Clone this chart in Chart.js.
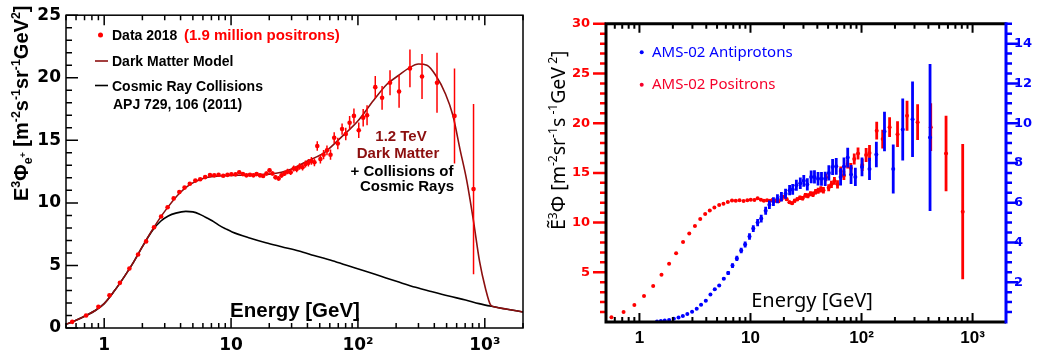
<!DOCTYPE html>
<html>
<head>
<meta charset="utf-8">
<script src="https://cdn.jsdelivr.net/npm/chart.js@4.4.1/dist/chart.umd.min.js"></script>
<style>
html, body { margin: 0; padding: 0; background: #fff; }
#wrap { position: relative; width: 1037px; height: 359px; overflow: hidden; background: #fff; }
#left { position: absolute; left: 0; top: 0; }
#right { position: absolute; left: 520px; top: 0; }
</style>
</head>
<body>
<div id="wrap">
  <canvas id="left" width="530" height="359"></canvas>
  <canvas id="right" width="517" height="359"></canvas>
</div>
<script>
// AMS-02 positrons, E^3 flux
const posE = [0.56, 0.72, 0.9, 1.1, 1.33, 1.58, 1.85, 2.14, 2.47, 2.81,
  3.16, 3.53, 3.91, 4.3, 4.73, 5.23, 5.71, 6.25, 6.82, 7.37,
  7.97, 8.67, 9.37, 10.06, 10.85,
  11.6, 12.4, 13.2, 14.1, 15.0, 15.9, 16.9, 17.9, 19.0, 20.1,
  21.2, 22.4, 23.7, 25.0, 26.4, 27.9, 29.5, 31.2,
  32.9, 34.7, 36.6, 38.6, 40.7, 43.0, 45.4,
  47.8, 50.6, 53.6, 57.0, 60.8, 65.0, 69.4, 75.0, 80.2, 86.0, 93.0,
  101.5, 110, 118,
  137, 155, 179, 211, 257, 320, 420, 577, 815];
const posV = [0.49, 1.0, 1.7, 2.62, 3.61, 4.75, 5.87, 6.92, 8.05, 8.91,
  9.65, 10.36, 10.87, 11.22, 11.53, 11.78, 11.89, 12.06, 12.22, 12.2,
  12.25, 12.17, 12.24, 12.29, 12.28,
  12.45, 12.3, 12.2, 12.25, 12.2, 12.3, 12.2, 12.15, 12.35, 12.6,
  12.35, 12.05, 11.95, 12.2, 12.35, 12.5, 12.45, 12.75,
  12.7, 12.9, 12.85, 13.1, 13.2, 13.35, 13.25,
  14.55, 13.5, 13.85, 14.2, 13.85, 15.2, 14.75, 15.9, 15.5, 16.4, 16.95,
  15.8, 16.8, 17.0,
  19.25, 18.4, 19.6, 18.9, 20.75, 20.1, 19.6, 16.95, 11.1];
const posErr = [0.03, 0.03, 0.03, 0.04, 0.04, 0.05, 0.05, 0.05, 0.06, 0.06,
  0.06, 0.07, 0.07, 0.07, 0.08, 0.08, 0.08, 0.09, 0.09, 0.09,
  0.1, 0.1, 0.1, 0.11, 0.11,
  0.12, 0.12, 0.13, 0.13, 0.14, 0.14, 0.15, 0.15, 0.16, 0.17,
  0.17, 0.18, 0.19, 0.2, 0.21, 0.22, 0.23, 0.24,
  0.25, 0.26, 0.27, 0.28, 0.3, 0.31, 0.32,
  0.38, 0.35, 0.37, 0.39, 0.41, 0.44, 0.46, 0.45, 0.5, 0.55, 0.6,
  0.62, 0.7, 0.8,
  0.9, 0.95, 1.0, 1.3, 1.5, 1.8, 2.4, 3.8, 6.8];

// AMS-02 antiprotons (right axis)
const pbarE = [1.44, 1.56, 1.69, 1.85, 2.04, 2.25, 2.46, 2.7, 2.98, 3.28, 3.59, 3.96, 4.36, 4.77, 5.23, 5.75,
  6.3, 6.89, 7.54, 8.25, 8.95, 9.8, 10.6, 11.6,
  12.5, 13.7, 14.8, 16.1, 17.5, 19.0, 20.7, 22.5, 24.0, 25.9, 28.1, 30.2,
  32.5, 35.2, 37.7, 40.6, 43.6, 47.1, 50.8, 54.9, 59.2,
  64.8, 69.5, 75.1, 80.5, 88,
  101, 118, 136, 161, 193, 235, 288, 414];
const pbarV = [0.03, 0.05, 0.08, 0.1, 0.16, 0.23, 0.3, 0.4, 0.51, 0.67, 0.87, 1.07, 1.38, 1.65, 1.83, 2.18,
  2.47, 2.84, 3.2, 3.6, 3.9, 4.3, 4.7, 5.0,
  5.2, 5.6, 5.9, 6.05, 6.2, 6.3, 6.45, 6.63, 6.67, 6.88, 6.98, 7.1,
  6.92, 7.3, 7.3, 7.2, 7.2, 7.2, 7.5, 7.8, 7.83,
  7.3, 7.82, 8.27, 7.42, 7.3,
  7.8, 7.7, 8.43, 9.58, 7.7, 9.68, 10.2, 9.28];
const pbarErr = [0.02, 0.02, 0.02, 0.02, 0.02, 0.02, 0.03, 0.03, 0.03, 0.04, 0.04, 0.05, 0.05, 0.06, 0.06, 0.07,
  0.1, 0.12, 0.13, 0.14, 0.15, 0.16, 0.17, 0.18,
  0.19, 0.2, 0.21, 0.22, 0.23, 0.24, 0.25, 0.26, 0.27, 0.28, 0.29, 0.3,
  0.31, 0.32, 0.33, 0.34, 0.35, 0.36, 0.38, 0.4, 0.42,
  0.44, 0.46, 0.5, 0.48, 0.46,
  0.47, 0.56, 0.64, 0.99, 1.23, 1.56, 1.9, 3.7];

// model curves (left panel)
const dmE = [0.5, 0.6, 0.72, 0.85, 1.0, 1.2, 1.45, 1.7, 2.0, 2.4,
  2.8, 3.2, 3.6, 4.0, 4.5, 5.0, 6.0, 7.0, 8.0, 10,
  13, 16, 20, 25, 30, 40, 54, 73, 99, 133,
  170, 210, 250, 300, 350, 410, 490, 560, 640, 720,
  810, 910, 1010, 1110, 1200, 1500, 2000];
const dmV = [0.3, 0.62, 1.0, 1.4, 1.95, 2.95, 4.15, 5.25, 6.5, 7.85,
  8.9, 9.7, 10.35, 10.85, 11.3, 11.6, 11.95, 12.1, 12.15, 12.2,
  12.22, 12.25, 12.3, 12.45, 12.7, 13.35, 14.0, 15.2, 16.5, 18.2,
  19.5, 20.2, 20.75, 21.1, 21.0, 20.2, 18.7, 17.0, 14.2, 11.8,
  8.7, 5.3, 3.2, 1.85, 1.68, 1.5, 1.28];
const crE = [0.5, 0.6, 0.72, 0.85, 1.0, 1.2, 1.45, 1.7, 2.0, 2.4,
  2.8, 3.2, 3.67, 4.4, 5.0, 5.6, 6.3, 7.1, 8.0, 9.1,
  10.2, 14, 18.8, 25, 34.3, 45, 62.9, 85, 115, 150,
  210, 285, 385, 520, 705, 900, 1150, 1500, 2000];
const crV = [0.3, 0.62, 1.0, 1.4, 1.95, 2.95, 4.15, 5.25, 6.5, 7.8,
  8.55, 8.95, 9.18, 9.32, 9.28, 9.12, 8.85, 8.57, 8.22, 7.92,
  7.68, 7.2, 6.82, 6.5, 6.15, 5.8, 5.37, 4.95, 4.53, 4.15,
  3.67, 3.25, 2.89, 2.55, 2.24, 1.95, 1.72, 1.5, 1.28];

const xTickValues = [1, 10, 100, 1000];
const xTickText = ['1', '10', '10²', '10³'];

const RED = '#ff0000';
const DARKRED = '#8c0f0f';
const BLUE = '#0000ff';

const pts = (xs, ys) => xs.map((x, i) => ({ x, y: ys[i] }));

// vertical error bars, drawn under each dataset's markers
const errorBars = {
  id: 'errorBars',
  beforeDatasetDraw(chart, args) {
    const ds = chart.data.datasets[args.index];
    if (!ds.errors) return;
    const ys = chart.scales[args.meta.yAxisID];
    const a = chart.chartArea;
    const ctx = chart.ctx;
    ctx.save();
    ctx.beginPath();
    ctx.rect(a.left, a.top, a.right - a.left, a.bottom - a.top);
    ctx.clip();
    ctx.strokeStyle = ds.errorColor;
    ctx.lineWidth = ds.errorWidth;
    ctx.beginPath();
    args.meta.data.forEach((p, i) => {
      const v = ds.data[i].y, e = ds.errors[i];
      ctx.moveTo(p.x, ys.getPixelForValue(v - e));
      ctx.lineTo(p.x, ys.getPixelForValue(v + e));
    });
    ctx.stroke();
    ctx.restore();
  }
};

// text with super/subscripts; mode 1 = sup, -1 = sub, 2 = tiny sup on sub
function richText(ctx, segs, fs, weight, family) {
  let x = 0;
  for (const [t, mode] of segs) {
    let size = fs, dy = 0;
    if (mode === 1) { size = fs * 0.62; dy = -fs * 0.42; }
    else if (mode === -1) { size = fs * 0.62; dy = fs * 0.22; }
    else if (mode === 2) { size = fs * 0.45; dy = -fs * 0.12; }
    ctx.font = `${weight} ${size}px ${family}`;
    ctx.fillText(t, x, dy);
    x += ctx.measureText(t).width;
  }
}

function logTicks(min, max) {
  const out = [];
  for (const d of [0.1, 1, 10, 100, 1000]) {
    for (let m = 1; m <= 9; m++) {
      const v = m * d;
      if (v >= min && v <= max) out.push([v, m === 1]);
    }
  }
  return out;
}

const leftDecor = {
  id: 'leftDecor',
  afterDraw(chart) {
    const { ctx, chartArea: a, scales: { x, y } } = chart;
    ctx.save();
    ctx.strokeStyle = '#000';
    ctx.lineWidth = 1.5;
    ctx.strokeRect(a.left, a.top, a.right - a.left, a.bottom - a.top);
    ctx.beginPath();
    for (const [v, major] of logTicks(x.min, x.max)) {
      const px = x.getPixelForValue(v);
      const len = major ? 10 : 5;
      ctx.moveTo(px, a.bottom); ctx.lineTo(px, a.bottom - len);
      ctx.moveTo(px, a.top); ctx.lineTo(px, a.top + len);
    }
    for (let v = 0; v <= 25; v++) {
      const py = y.getPixelForValue(v);
      ctx.moveTo(a.left, py); ctx.lineTo(a.left + (v % 5 === 0 ? 12 : 6), py);
    }
    ctx.stroke();

    ctx.textBaseline = 'alphabetic';
    ctx.textAlign = 'left';
    const F = '"Liberation Sans", Arial, sans-serif';

    // y title
    ctx.save();
    ctx.translate(28, 201);
    ctx.rotate(-Math.PI / 2);
    ctx.fillStyle = '#000';
    richText(ctx, [['E', 0], ['3', 1], ['Φ', 0], ['e', -1], ['+', 2], [' [m', 0], ['-2', 1], ['s', 0], ['-1', 1],
      ['sr', 0], ['-1', 1], ['GeV', 0], ['2', 1], [']', 0]], 20, 'bold', F);
    ctx.restore();

    // legend
    ctx.fillStyle = RED;
    ctx.beginPath(); ctx.arc(100.5, 35, 2.5, 0, Math.PI * 2); ctx.fill();
    ctx.font = `bold 14px ${F}`;
    ctx.fillStyle = '#000';
    ctx.fillText('Data 2018', 112, 40);
    ctx.fillStyle = RED;
    ctx.font = `bold 15px ${F}`;
    ctx.fillText('(1.9 million positrons)', 184, 40);
    ctx.font = `bold 14px ${F}`;
    ctx.lineWidth = 1.6;
    ctx.strokeStyle = DARKRED;
    ctx.beginPath(); ctx.moveTo(95, 61); ctx.lineTo(108, 61); ctx.stroke();
    ctx.fillStyle = '#000';
    ctx.fillText('Dark Matter Model', 112, 65.5);
    ctx.strokeStyle = '#000';
    ctx.beginPath(); ctx.moveTo(95, 85.5); ctx.lineTo(108, 85.5); ctx.stroke();
    ctx.fillText('Cosmic Ray Collisions', 112, 90.5);
    ctx.fillText('APJ 729, 106 (2011)', 113, 108.5);

    // annotation
    ctx.textAlign = 'center';
    ctx.font = `bold 15px ${F}`;
    ctx.fillStyle = DARKRED;
    ctx.fillText('1.2 TeV', 401, 141);
    ctx.fillText('Dark Matter', 398, 158);
    ctx.fillStyle = '#000';
    ctx.fillText('+ Collisions of', 402, 176);
    ctx.fillText('Cosmic Rays', 407, 191);

    ctx.font = `bold 20.5px ${F}`;
    ctx.fillText('Energy [GeV]', 295, 317);
    ctx.restore();
  }
};

const rightDecor = {
  id: 'rightDecor',
  afterDraw(chart) {
    const { ctx, chartArea: a, scales: { x, yL, yR } } = chart;
    ctx.save();
    ctx.strokeStyle = '#000';
    ctx.lineWidth = 2;
    ctx.beginPath();
    for (const [v, major] of logTicks(x.min, x.max)) {
      const px = x.getPixelForValue(v);
      ctx.moveTo(px, a.bottom); ctx.lineTo(px, a.bottom - (major ? 9 : 5));
      ctx.moveTo(px, a.top); ctx.lineTo(px, a.top + (major ? 9 : 5));
    }
    ctx.stroke();

    ctx.strokeStyle = RED;
    ctx.lineWidth = 2.5;
    ctx.beginPath();
    for (let v = 1; v <= 30; v++) {
      const py = yL.getPixelForValue(v);
      ctx.moveTo(a.left, py); ctx.lineTo(a.left - (v % 5 === 0 ? 13 : 6), py);
    }
    ctx.stroke();

    ctx.strokeStyle = BLUE;
    ctx.beginPath();
    for (let k = 1; k <= 30; k++) {
      const v = k / 2;
      const py = yR.getPixelForValue(v);
      ctx.moveTo(a.right, py); ctx.lineTo(a.right + (k % 4 === 0 ? 12 : 6), py);
    }
    ctx.stroke();

    ctx.lineWidth = 3;
    ctx.strokeStyle = '#000';
    ctx.beginPath();
    ctx.moveTo(a.right, a.top); ctx.lineTo(a.left, a.top); ctx.lineTo(a.left, a.bottom); ctx.lineTo(a.right, a.bottom);
    ctx.stroke();
    ctx.strokeStyle = BLUE;
    ctx.beginPath(); ctx.moveTo(a.right, a.top - 1.5); ctx.lineTo(a.right, a.bottom + 1.5); ctx.stroke();

    const F = '"Noto Sans", sans-serif';
    ctx.textBaseline = 'alphabetic';
    ctx.textAlign = 'left';
    ctx.save();
    ctx.translate(45, 230);
    ctx.rotate(-Math.PI / 2);
    ctx.fillStyle = '#000';
    richText(ctx, [['Ẽ', 0], ['3', 1], ['Φ', 0], [' [m', 0], ['-2', 1], ['sr', 0], ['-1', 1], ['s', 0], [' -1', 1],
      ['GeV', 0], [' 2', 1], [']', 0]], 19.5, 'normal', F);
    ctx.restore();

    ctx.font = `15px ${F}`;
    ctx.fillStyle = BLUE;
    ctx.beginPath(); ctx.arc(121.7, 52.3, 2, 0, Math.PI * 2); ctx.fill();
    ctx.fillText('AMS-02 Antiprotons', 132, 57);
    ctx.fillStyle = '#f5002a';
    ctx.beginPath(); ctx.arc(121.7, 84.7, 2, 0, Math.PI * 2); ctx.fill();
    ctx.fillText('AMS-02 Positrons', 132, 89);

    ctx.fillStyle = '#000';
    ctx.textAlign = 'center';
    ctx.font = `20px ${F}`;
    ctx.fillText('Energy [GeV]', 292, 307);
    ctx.restore();
  }
};

const noGrid = { display: false, drawTicks: false };
const noBorder = { display: false };
const xTickCb = v => { const i = xTickValues.indexOf(v); return i >= 0 ? xTickText[i] : ''; };
const setTicks = s => { s.ticks = xTickValues.map(v => ({ value: v })); };

new Chart(document.getElementById('left'), {
  type: 'scatter',
  data: {
    datasets: [
      { label: 'Data 2018', data: pts(posE, posV), errors: posErr, errorColor: RED, errorWidth: 1.5,
        pointRadius: 2.3, pointBackgroundColor: RED, pointBorderWidth: 0, showLine: false },
      { label: 'Dark Matter Model', data: pts(dmE, dmV), showLine: true, borderColor: DARKRED, borderWidth: 1.6,
        pointRadius: 0, cubicInterpolationMode: 'monotone' },
      { label: 'Cosmic Ray Collisions', data: pts(crE, crV), showLine: true, borderColor: '#000', borderWidth: 1.6,
        pointRadius: 0, cubicInterpolationMode: 'monotone' }
    ]
  },
  options: {
    responsive: false, animation: false, devicePixelRatio: 1,
    layout: { padding: { top: 8, right: 7, left: 0, bottom: 0 } },
    plugins: { legend: { display: false }, tooltip: { enabled: false } },
    scales: {
      x: {
        type: 'logarithmic', min: 0.5, max: 2000, grid: noGrid, border: noBorder,
        afterBuildTicks: setTicks, afterFit: s => { s.height = 31; },
        ticks: { autoSkip: false, maxRotation: 0, padding: 7, color: '#000',
          font: { family: '"DejaVu Sans"', weight: 'bold', size: 17 }, callback: xTickCb }
      },
      y: {
        min: 0, max: 25, grid: noGrid, border: noBorder, afterFit: s => { s.width = 66; },
        ticks: { stepSize: 5, padding: 5, color: '#000', font: { family: '"DejaVu Sans"', weight: 'bold', size: 17 } }
      }
    }
  },
  plugins: [errorBars, leftDecor]
});

new Chart(document.getElementById('right'), {
  type: 'scatter',
  data: {
    datasets: [
      { label: 'AMS-02 Antiprotons', data: pts(pbarE, pbarV), yAxisID: 'yR', errors: pbarErr, errorColor: BLUE,
        errorWidth: 2.8, pointRadius: 2, pointBackgroundColor: BLUE, pointBorderWidth: 0, showLine: false },
      { label: 'AMS-02 Positrons', data: pts(posE, posV), yAxisID: 'yL', errors: posErr, errorColor: RED,
        errorWidth: 2.8, pointRadius: 2, pointBackgroundColor: RED, pointBorderWidth: 0, showLine: false }
    ]
  },
  options: {
    responsive: false, animation: false, devicePixelRatio: 1,
    layout: { padding: { top: 10, right: 0, left: 0, bottom: 0 } },
    plugins: { legend: { display: false }, tooltip: { enabled: false } },
    scales: {
      x: {
        type: 'logarithmic', min: 0.5, max: 2000, grid: noGrid, border: noBorder,
        afterBuildTicks: setTicks, afterFit: s => { s.height = 37; },
        ticks: { autoSkip: false, maxRotation: 0, padding: 6, color: '#000',
          font: { family: '"Liberation Sans"', weight: 'bold', size: 17 }, callback: xTickCb }
      },
      yL: {
        position: 'left', min: 0, max: 30, grid: noGrid, border: noBorder, afterFit: s => { s.width = 86; },
        ticks: { stepSize: 5, padding: 16, color: RED, font: { family: '"DejaVu Sans"', weight: 'bold', size: 13 },
          callback: v => (v > 0 ? v : '') }
      },
      yR: {
        position: 'right', min: 0, max: 15, grid: noGrid, border: noBorder, afterFit: s => { s.width = 31; },
        ticks: { stepSize: 2, padding: 8, color: BLUE, font: { family: '"DejaVu Sans"', weight: 'bold', size: 13 },
          callback: v => (v > 0 && v % 2 === 0 ? v : '') }
      }
    }
  },
  plugins: [errorBars, rightDecor]
});
</script>
</body>
</html>
